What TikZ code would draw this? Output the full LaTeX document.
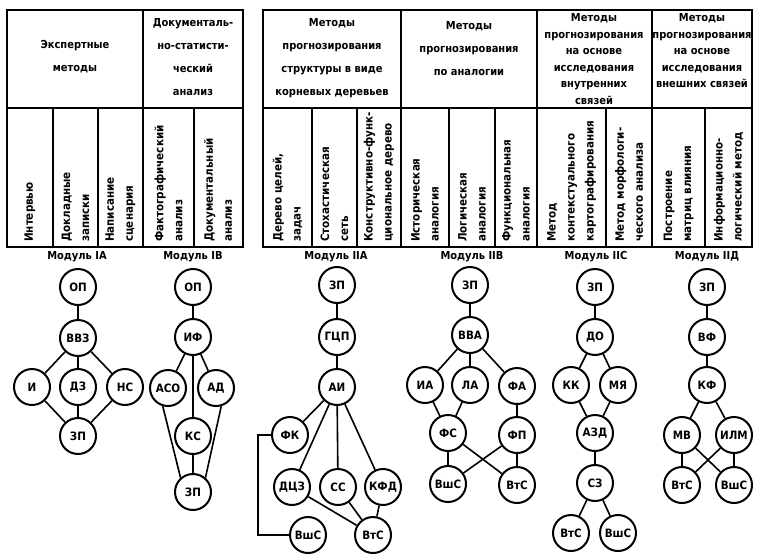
\documentclass[tikz,border=0pt]{standalone}
\usepackage{fontspec}
\setmainfont{DejaVu Sans Condensed}
\usetikzlibrary{positioning, calc}

\tikzset{
  grid/.style = {line width=2pt},
  hdr/.style = {align=center, inner sep=0pt, font=\bfseries\fontsize{11}{23}\selectfont},
  hdrtight/.style = {align=center, inner sep=0pt, font=\bfseries\fontsize{11}{16.5}\selectfont},
  vert/.style = {rotate=90, anchor=west, align=left, inner sep=1pt, font=\bfseries\fontsize{11.5}{19}\selectfont},
  modlabel/.style = {inner sep=0pt, font=\bfseries\fontsize{11}{12}\selectfont},
  mod/.style = {circle, draw, fill=white, line width=2pt, minimum size=36pt, inner sep=0pt, font=\bfseries\fontsize{11.5}{12}\selectfont},
  link/.style = {line width=1.6pt}
}

\begin{document}
\begin{tikzpicture}[x=1pt, y=-1pt]
\useasboundingbox (0,0) rectangle (759,554);

% tables
\draw[grid] (7,10) rectangle (243,247);
\draw[grid] (7,108) -- (243,108);
\draw[grid] (143,10) -- (143,247);
\foreach \x in {53,98,194} \draw[grid] (\x,108) -- (\x,247);
\draw[grid] (263,10) rectangle (752,247);
\draw[grid] (263,108) -- (752,108);
\foreach \x in {401,537,652} \draw[grid] (\x,10) -- (\x,247);
\foreach \x in {312,357,449,495,606,705} \draw[grid] (\x,108) -- (\x,247);

% headers
\node[hdr] (hExp) at (75,57) {Экспертные\\методы};
\node[hdr] (hDoc) at (193,57) {Документаль-\\но-статисти-\\ческий\\анализ};
\node[hdr] (hTree) at (332,58) {Методы\\прогнозирования\\структуры в виде\\корневых деревьев};
\node[hdr] (hAnal) at (469,49) {Методы\\прогнозирования\\по аналогии};
\node[hdrtight] (hInt) at (594,59) {Методы\\прогнозирования\\на основе\\исследования\\внутренних\\связей};
\node[hdrtight] (hExt) at (702,51) {Методы\\прогнозирования\\на основе\\исследования\\внешних связей};

% vertical texts
\node[vert] (vInt) at (30,243) {Интервью};
\node[vert] (vDok) at (75.5,243) {Докладные\\записки};
\node[vert] (vNap) at (120.5,243) {Написание\\сценария};
\node[vert] (vFak) at (168.5,243) {Фактографический\\анализ};
\node[vert] (vDan) at (218,243) {Документальный\\анализ};
\node[vert] (vDer) at (287.5,243) {Дерево целей,\\задач};
\node[vert] (vSto) at (334.5,243) {Стохастическая\\сеть};
\node[vert] (vKon) at (379,243) {Конструктивно-функ-\\циональное дерево};
\node[vert] (vIst) at (425,243) {Историческая\\аналогия};
\node[vert] (vLog) at (472,243) {Логическая\\аналогия};
\node[vert] (vFun) at (516,243) {Функциональная\\аналогия};
\node[vert] (vKart) at (571.5,243) {Метод\\контекстуального\\картографирования};
\node[vert] (vMorf) at (629,243) {Метод морфологи-\\ческого анализа};
\node[vert] (vMatr) at (678.5,243) {Построение\\матриц влияния};
\node[vert] (vInf) at (728.5,243) {Информационно-\\логический метод};

% module labels
\node[modlabel] (lIA) at (77,257) {Модуль IA};
\node[modlabel] (lIB) at (193,257) {Модуль IB};
\node[modlabel] (lIIA) at (336,257) {Модуль IIA};
\node[modlabel] (lIIB) at (472,257) {Модуль IIB};
\node[modlabel] (lIIC) at (596,257) {Модуль IIC};
\node[modlabel] (lIID) at (707,257) {Модуль IIД};

% module IA
\node[mod] (IAop) at (78,287) {ОП};
\node[mod] (IAvvz) at (78,338) {ВВЗ};
\node[mod] (IAi) at (32,387) {И};
\node[mod] (IAdz) at (78,387) {ДЗ};
\node[mod] (IAns) at (125,387) {НС};
\node[mod] (IAzp) at (78,436) {ЗП};
\draw[link] (IAop) -- (IAvvz);
\draw[link] (IAvvz) -- (IAi);
\draw[link] (IAvvz) -- (IAdz);
\draw[link] (IAvvz) -- (IAns);
\draw[link] (IAi) -- (IAzp);
\draw[link] (IAdz) -- (IAzp);
\draw[link] (IAns) -- (IAzp);

% module IB
\node[mod] (IBop) at (193,287) {ОП};
\node[mod] (IBif) at (193,337) {ИФ};
\node[mod] (IBaso) at (168,388) {АСО};
\node[mod] (IBad) at (216,388) {АД};
\node[mod] (IBks) at (193,436) {КС};
\node[mod] (IBzp) at (193,492) {ЗП};
\draw[link] (IBop) -- (IBif);
\draw[link] (IBif) -- (IBaso);
\draw[link] (IBif) -- (IBad);
\draw[link] (IBif) -- (IBks);
\draw[link] (IBaso.254) -- (IBzp.131);
\draw[link] (IBad.286) -- (IBzp.49);
\draw[link] (IBks) -- (IBzp);

% module IIA
\node[mod] (IIAzp) at (337,285) {ЗП};
\node[mod] (IIAgcp) at (337,337) {ГЦП};
\node[mod] (IIAai) at (337,387) {АИ};
\node[mod] (IIAfk) at (290,435) {ФК};
\node[mod] (IIAdcz) at (292,487) {ДЦЗ};
\node[mod] (IIAcc) at (338,487) {СС};
\node[mod] (IIAkfd) at (383,487) {КФД};
\node[mod] (IIAvshs) at (308,535) {ВшС};
\node[mod] (IIAvts) at (373,535) {ВтС};
\draw[link] (IIAzp) -- (IIAgcp);
\draw[link] (IIAgcp) -- (IIAai);
\draw[link] (IIAai) -- (IIAfk);
\draw[link] (IIAai) -- (IIAdcz);
\draw[link] (IIAai) -- (IIAcc);
\draw[link] (IIAai) -- (IIAkfd);
\draw[link] (IIAdcz) -- (IIAvts);
\draw[link] (IIAcc) -- (IIAvts);
\draw[link] (IIAkfd) -- (IIAvts);
\draw[link] (IIAfk.west) -- ++(-13,0) |- (IIAvshs.west);

% module IIB
\node[mod] (IIBzp) at (470,285) {ЗП};
\node[mod] (IIBvva) at (470,335) {ВВА};
\node[mod] (IIBia) at (425,385) {ИА};
\node[mod] (IIBla) at (470,385) {ЛА};
\node[mod] (IIBfa) at (517,386) {ФА};
\node[mod] (IIBfs) at (448,433) {ФС};
\node[mod] (IIBfp) at (517,435) {ФП};
\node[mod] (IIBvshs) at (448,484) {ВшС};
\node[mod] (IIBvts) at (517,485) {ВтС};
\draw[link] (IIBzp) -- (IIBvva);
\draw[link] (IIBvva) -- (IIBia);
\draw[link] (IIBvva) -- (IIBla);
\draw[link] (IIBvva) -- (IIBfa);
\draw[link] (IIBia) -- (IIBfs);
\draw[link] (IIBla) -- (IIBfs);
\draw[link] (IIBfa) -- (IIBfp);
\draw[link] (IIBfs) -- (IIBvshs);
\draw[link] (IIBfs) -- (IIBvts);
\draw[link] (IIBfp) -- (IIBvshs);
\draw[link] (IIBfp) -- (IIBvts);

% module IIC
\node[mod] (IICzp) at (595,287) {ЗП};
\node[mod] (IICdo) at (595,337) {ДО};
\node[mod] (IICkk) at (571,385) {КК};
\node[mod] (IICmya) at (618,385) {МЯ};
\node[mod] (IICazd) at (595,433) {АЗД};
\node[mod] (IICsz) at (595,483) {СЗ};
\node[mod] (IICvts) at (571,533) {ВтС};
\node[mod] (IICvshs) at (618,533) {ВшС};
\draw[link] (IICzp) -- (IICdo);
\draw[link] (IICdo) -- (IICkk);
\draw[link] (IICdo) -- (IICmya);
\draw[link] (IICkk) -- (IICazd);
\draw[link] (IICmya) -- (IICazd);
\draw[link] (IICazd) -- (IICsz);
\draw[link] (IICsz) -- (IICvts);
\draw[link] (IICsz) -- (IICvshs);

% module IID
\node[mod] (IIDzp) at (707,287) {ЗП};
\node[mod] (IIDvf) at (707,337) {ВФ};
\node[mod] (IIDkf) at (707,385) {КФ};
\node[mod] (IIDmv) at (682,435) {МВ};
\node[mod] (IIDilm) at (734,435) {ИЛМ};
\node[mod] (IIDvts) at (682,485) {ВтС};
\node[mod] (IIDvshs) at (734,485) {ВшС};
\draw[link] (IIDzp) -- (IIDvf);
\draw[link] (IIDvf) -- (IIDkf);
\draw[link] (IIDkf) -- (IIDmv);
\draw[link] (IIDkf) -- (IIDilm);
\draw[link] (IIDmv) -- (IIDvts);
\draw[link] (IIDmv) -- (IIDvshs);
\draw[link] (IIDilm) -- (IIDvts);
\draw[link] (IIDilm) -- (IIDvshs);
\end{tikzpicture}
\end{document}
